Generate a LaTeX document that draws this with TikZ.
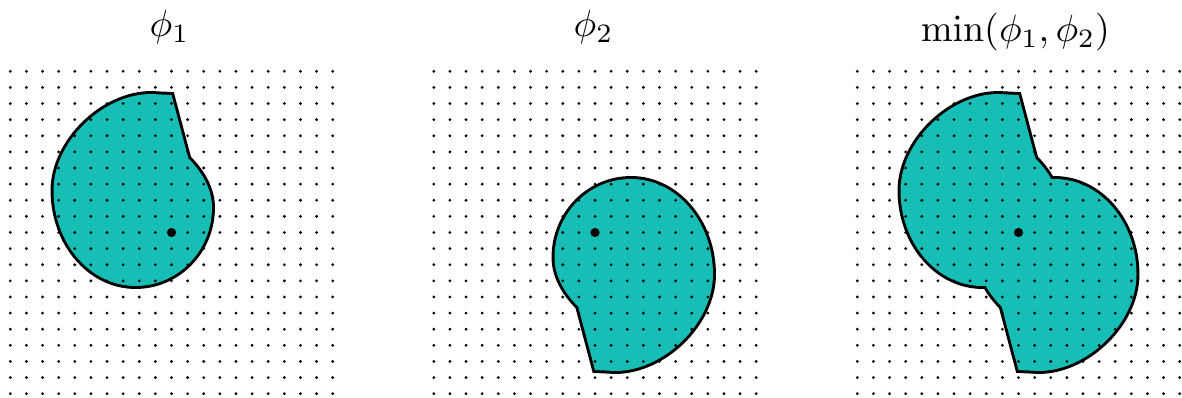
\documentclass[tikz,border=0pt]{standalone}
\usepackage{amsmath}
\usepackage{xcolor}
\definecolor{sdfteal}{RGB}{23,190,181}
% outline of the first shape, around its sample point
\newcommand{\shapeone}{(0,-137.5) -- (16.8,-74.2)
  .. controls (28.8,-62.2) and (40.5,-45) .. (40.5,-25)
  .. controls (40.5,18.4) and (6.25,53.5) .. (-36,53.5)
  .. controls (-81.3,53.5) and (-118,10.7) .. (-118,-42)
  .. controls (-118,-90.25) and (-69,-138.5) .. (-20,-138.5) -- cycle}
\begin{document}
\begin{tikzpicture}[x=0.025cm,y=-0.025cm]

\tikzstyle{every node}=[scale=2.7]
\tikzstyle{rim}=[draw=black,line width=4.2pt]
\tikzstyle{inside}=[fill=sdfteal]
\useasboundingbox (0,0) rectangle (1182,398);

% titles
    \node[anchor=base] (title1) at (169.5,36.7) {$\phi_1$};
    \node[anchor=base] (title2) at (593.5,36.7) {$\phi_2$};
    \node[anchor=base] (title3) at (1015.5,41.7) {$\min(\phi_1,\phi_2)$};

% phi_1
\begin{scope}[shift={(171.5,232.5)}]
    \path[rim] \shapeone;
    \path[inside] \shapeone;
\end{scope}
% phi_2 (same shape turned round)
\begin{scope}[shift={(595,232.5)},rotate=180]
    \path[rim] \shapeone;
    \path[inside] \shapeone;
\end{scope}
% union of both
\begin{scope}[shift={(1018.5,232.5)}]
    \path[rim] \shapeone;
    \path[rim,rotate=180] \shapeone;
    \path[inside] \shapeone;
    \path[inside,rotate=180] \shapeone;
\end{scope}

  % sample grids
  \foreach \cx in {171.5,595,1018.5}
    \foreach \i in {-10,...,10}
      \foreach \j in {-10,...,10}
        \fill (\cx+\i*16.12,232.5+\j*16.12) circle[radius=1.55];
  % sample points
  \foreach \cx in {171.5,595,1018.5}
    \fill (\cx,232.5) circle[radius=4.6];
\end{tikzpicture}
\end{document}
